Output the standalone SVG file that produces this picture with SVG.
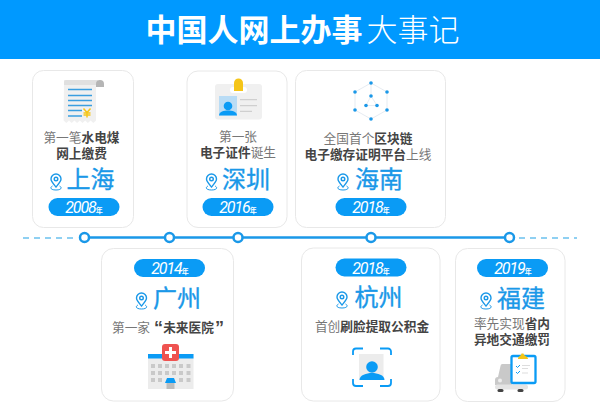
<svg xmlns="http://www.w3.org/2000/svg" width="600" height="418" viewBox="0 0 600 418">
<style>
text{font-family:"Noto Sans CJK SC","Liberation Sans",sans-serif;text-anchor:middle}
.card{fill:#fff;stroke:#e8e8e8;stroke-width:1}
.pill{fill:#0a9bf5}
.t{font-size:12.7px;fill:#777}
.t tspan,.b{font-weight:700;fill:#444}
.q{font-family:"Liberation Sans",sans-serif;font-weight:700;font-size:18px;fill:#444}
.city{font-size:24px;fill:#1a98e8;stroke:#1a98e8;stroke-width:.35}
.yr{font-family:"Roboto","Liberation Sans",sans-serif;font-size:16px;letter-spacing:-1.1px;font-style:italic;fill:#fff}
.yr tspan{font-family:"Noto Sans CJK SC",sans-serif;font-size:7px;font-weight:700;font-style:normal;letter-spacing:0}
.pin{fill:none;stroke:#1a98e8;stroke-width:1.400}
.node{fill:#fff;stroke:#1a98e8;stroke-width:2.500}
</style>
<defs>
<g id="pin"><path class="pin" d="M0 4.500C-3 1-5-1-5-3.500a5 5 0 0 1 10 0C5-1 3 1 0 4.500z"/><circle cx="0" cy="-3.500" r="1.800" class="pin"/><path class="pin" d="M-3.500 3.500C-6.500 5-5.500 7.500 0 7.500S6.500 5 3.500 3.500" style="stroke-width:1"/></g>
</defs>
<rect id="header" width="600" height="59" fill="#0099ff"/>
<text x="254" y="41" font-size="31" font-weight="700" fill="#fff">中国人网上办事</text>
<text x="413" y="41" font-size="31" font-weight="300" fill="#fff">大事记</text>

<g id="connectors">
<path d="M23 238H78" stroke="#8fd0f2" stroke-width="2.200" stroke-dasharray="6 5" fill="none"/>
<path d="M519 238H577" stroke="#8fd0f2" stroke-width="2.200" stroke-dasharray="6 5" fill="none"/>
<path d="M84.500 237.500H509.500" stroke="#1a98e8" stroke-width="2.500" fill="none"/>
</g>
<g id="timeline-nodes">
<circle class="node" cx="84.500" cy="237.500" r="4.500"/>
<circle class="node" cx="169.500" cy="237.500" r="4.500"/>
<circle class="node" cx="238" cy="237.500" r="4.500"/>
<circle class="node" cx="371" cy="237.500" r="4.500"/>
<circle class="node" cx="509.500" cy="237.500" r="4.500"/>
</g>

<g id="shanghai">
<rect class="card" x="32.500" y="70.500" width="101" height="157" rx="11"/>
<path d="M64 80H96V120.500l-2.700 2.500-2.700-2.500-2.700 2.500-2.700-2.500-2.700 2.500-2.700-2.500-2.700 2.500-2.700-2.500-2.700 2.500-2.700-2.500-2.700 2.500-2.700-2.500z" fill="#f0f0f0"/>
<path d="M64 85v-3a2 2 0 0 1 2-2h32v5z" fill="#e0e0e0"/>
<path d="M96 87v-3a4 4 0 0 1 8 0v3z" fill="#b5b5b5"/>
<path d="M68 89.500H92M68 95.500H92M68 100.500H92M68 105.500H92M68 110.500H82M68 116H82" stroke="#3a9ee0" stroke-width="1.500" fill="none"/>
<path d="M83.500 108.500l3.500 4 3.500-4M87 112.500v5M83.500 113h7M83.500 115h7" stroke="#f5c518" stroke-width="1.500" fill="none"/>
<text class="t" x="81.500" y="142">第一笔<tspan>水电煤</tspan></text>
<text class="t b" x="81.500" y="158">网上缴费</text>
<use href="#pin" x="56" y="182.500"/>
<text class="city" x="90.500" y="188">上海</text>
<rect class="pill" x="48.500" y="198" width="71" height="18" rx="9"/>
<text class="yr" x="84" y="213">2008<tspan>年</tspan></text>
</g>

<g id="shenzhen">
<rect class="card" x="187" y="71" width="100" height="156.500" rx="11"/>
<rect x="215" y="84" width="47" height="35.500" rx="3" fill="#f0f0f0"/>
<rect x="230" y="87" width="17" height="6" rx="3" fill="#fff"/>
<path d="M234 91v-8a4.500 4.500 0 0 1 9 0v8z" fill="#f5c518"/>
<rect x="219" y="96" width="18" height="19.500" fill="#b9dcf5"/>
<circle cx="228" cy="106" r="4.300" fill="#0a9bf5"/>
<path d="M219 115.500c0-4 5-5 9-5s9 1 9 5z" fill="#0a9bf5"/>
<path d="M240 99.700H257M240 105.700H257M240 111.300H252" stroke="#cfcfcf" stroke-width="1.300"/>
<text class="t" x="238" y="141">第一张</text>
<text class="t" x="238" y="157"><tspan>电子证件</tspan>诞生</text>
<use href="#pin" x="211.500" y="182.500"/>
<text class="city" x="246" y="188">深圳</text>
<rect class="pill" x="202.500" y="198" width="71" height="18" rx="9"/>
<text class="yr" x="238" y="213">2016<tspan>年</tspan></text>
</g>

<g id="hainan">
<rect class="card" x="295.500" y="70.500" width="150" height="157" rx="11"/>
<path d="M371 83L387 92V110L371 119L355 110V92ZM371 83V96M371 96L366 105.500H377Z" stroke="#dfe6ee" stroke-width=".8" fill="none"/>
<g fill="#1a98e8"><circle cx="371" cy="83" r="1.800"/><circle cx="387" cy="92" r="1.800"/><circle cx="387" cy="110" r="1.800"/><circle cx="371" cy="119" r="1.800"/><circle cx="355" cy="110" r="1.800"/><circle cx="355" cy="92" r="1.800"/><circle cx="371" cy="96" r="1.800"/><circle cx="366" cy="105.500" r="1.800"/><circle cx="377" cy="105.500" r="1.800"/></g>
<text class="t" x="368" y="143">全国首个<tspan>区块链</tspan></text>
<text class="t" x="368" y="159"><tspan>电子缴存证明平台</tspan>上线</text>
<use href="#pin" x="343" y="182.500"/>
<text class="city" x="379" y="188">海南</text>
<rect class="pill" x="335.500" y="198" width="71" height="18" rx="9"/>
<text class="yr" x="371" y="213">2018<tspan>年</tspan></text>
</g>

<g id="guangzhou">
<rect class="card" x="101.500" y="248.500" width="132" height="152.500" rx="12"/>
<rect class="pill" x="134" y="259" width="71" height="18" rx="9"/>
<text class="yr" x="170" y="274">2014<tspan>年</tspan></text>
<use href="#pin" x="141.500" y="301.500"/>
<text class="city" x="177" y="307">广州</text>
<text class="t" x="131" y="332">第一家</text>
<text class="t b" x="188.500" y="332">未来医院</text>
<text class="q" x="158.500" y="334">“</text>
<text class="q" x="219.500" y="334">”</text>
<path d="M148 354H193.500V389H148z" fill="#ececec"/>
<rect x="148" y="354" width="45.500" height="4.500" fill="#0a9bf5"/>
<path d="M151 364h4v4h-4zM158 364h4v4h-4zM165 364h4v4h-4zM172 364h4v4h-4zM179 364h4v4h-4zM186.500 364h4v4h-4zM151 371h4v4h-4zM158 371h4v4h-4zM165 371h4v4h-4zM172 371h4v4h-4zM179 371h4v4h-4zM186.500 371h4v4h-4zM151 378h4v4h-4zM158 378h4v4h-4zM179 378h4v4h-4zM186.500 378h4v4h-4z" fill="#c9c9c9"/>
<rect x="162" y="344" width="17" height="17" rx="3" fill="#ef5350"/>
<path d="M170.500 347v11M165 352.500h11" stroke="#fff" stroke-width="3"/>
<path d="M165 383l2-5h7l2 5z" fill="#0a9bf5"/>
<rect x="166.500" y="383" width="8" height="6" fill="#bdbdbd"/>
</g>

<g id="hangzhou">
<rect class="card" x="301.500" y="248" width="138.500" height="153" rx="12"/>
<rect class="pill" x="335.500" y="258.500" width="71" height="18" rx="9"/>
<text class="yr" x="371" y="273.500">2018<tspan>年</tspan></text>
<use href="#pin" x="342" y="300.500"/>
<text class="city" x="378.500" y="306">杭州</text>
<text class="t" x="372" y="331">首创<tspan>刷脸提取公积金</tspan></text>
<rect x="359" y="354" width="24.500" height="26" fill="#ececec"/>
<path d="M353 355v-3.500a3 3 0 0 1 3-3h7M380 348.500h8a3 3 0 0 1 3 3v3.500M353 379v4a3 3 0 0 0 3 3h7M380 386h8a3 3 0 0 0 3-3v-4" stroke="#0a9bf5" stroke-width="1.800" fill="none"/>
<circle cx="372" cy="367" r="5.800" fill="#0a9bf5"/>
<path d="M359.500 380c0-5 7-7 12.500-7s12.500 2 12.500 7z" fill="#0a9bf5"/>
</g>

<g id="fujian">
<rect class="card" x="455.500" y="248.500" width="109.500" height="153" rx="12"/>
<rect class="pill" x="477" y="259" width="71" height="18" rx="9"/>
<text class="yr" x="513" y="274">2019<tspan>年</tspan></text>
<use href="#pin" x="486" y="301.500"/>
<text class="city" x="521" y="307">福建</text>
<text class="t" x="512" y="328">率先实现<tspan>省内</tspan></text>
<text class="t b" x="512" y="344">异地交通缴罚</text>
<path d="M498 377l2.500-11a2 2 0 0 1 2-2H512v14z" fill="#c9c9c9"/>
<path d="M495 385v-5a3 3 0 0 1 3-3h14v8z" fill="#c9c9c9"/>
<rect x="495" y="384.500" width="33" height="5" rx="2.500" fill="#e4e4e4"/>
<circle cx="500" cy="380.500" r="2" fill="#eee"/>
<rect x="497.500" y="389" width="6" height="3" rx="1.500" fill="#444"/>
<rect x="517.500" y="389" width="6" height="3" rx="1.500" fill="#444"/>
<rect x="511.500" y="356" width="24" height="27" rx="1.500" fill="#fff" stroke="#0a9bf5" stroke-width="2.300"/>
<path d="M518 359c0-3 3-2.500 3.500-5.500h2c.5 3 4.500 2.500 4.500 5.500z" fill="#f5c518"/>
<path d="M516 366l1.500 1.500 2.500-2.500M516 372l1.500 1.500 2.500-2.500" stroke="#0a9bf5" stroke-width="1" fill="none"/>
<path d="M522 365.500h8M522 368.500h6M522 373h6" stroke="#ddd" stroke-width="1"/>
</g>
</svg>
